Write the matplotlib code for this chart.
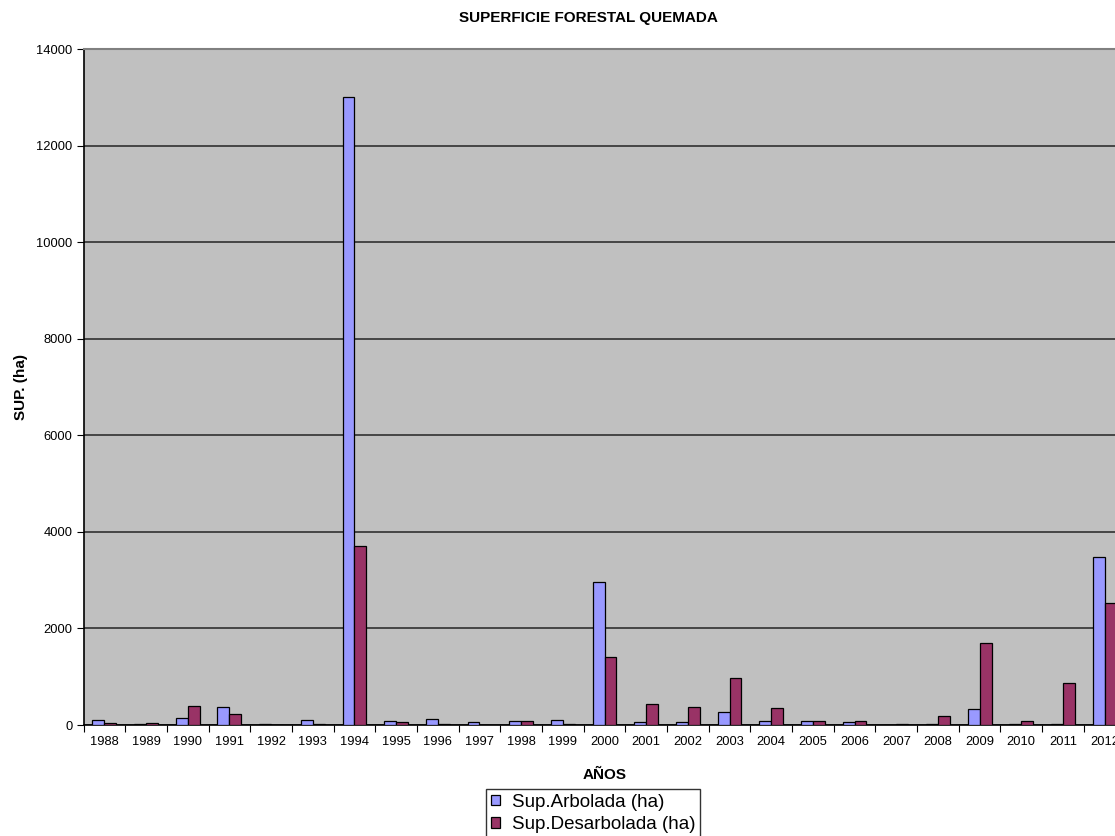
import numpy as np
import matplotlib
matplotlib.use('Agg')
import matplotlib.pyplot as plt

plt.rcParams['font.family'] = ['Liberation Sans', 'DejaVu Sans']

# data (ha)
years = [str(y) for y in range(1988, 2013)]
arbolada = [100, 20, 150, 380, 25, 100, 13000, 80, 130, 55, 75, 100,
            2970, 55, 55, 260, 80, 80, 55, 0, 25, 330, 25, 25, 3470]
desarbolada = [50, 50, 400, 230, 0, 25, 3700, 55, 25, 0, 75, 25,
               1400, 435, 380, 965, 350, 80, 80, 25, 180, 1700, 80, 860, 2535]

x = np.arange(len(years))
w = 1/3.5   # excel gap width 150%

fig = plt.figure(figsize=(11.15, 8.36), dpi=100)
ax = fig.add_axes([83.5/1115, 1 - 725/836, 1042/1115, 676/836])
ax.set_facecolor('#C0C0C0')

ax.bar(x - w/2, arbolada, w, color='#9999FF', edgecolor='black', linewidth=0.9,
       label='Sup.Arbolada (ha)', zorder=3)
ax.bar(x + w/2, desarbolada, w, color='#993366', edgecolor='black', linewidth=0.9,
       label='Sup.Desarbolada (ha)', zorder=3)

ax.set_xlim(-0.5, len(years) - 0.5)
ax.set_ylim(0, 14000)
ax.set_yticks(range(0, 14001, 2000))
ax.yaxis.grid(True, color='#303030', linewidth=1.2, zorder=1)

# ticks between categories, labels in the middle
ax.set_xticks(np.arange(len(years) + 1) - 0.5)
ax.set_xticklabels([])
ax.set_xticks(x, minor=True)
ax.set_xticklabels(years, minor=True)
ax.tick_params(axis='x', which='major', length=5, direction='out')
ax.tick_params(axis='x', which='minor', length=0, pad=8, labelsize=9.3)
ax.tick_params(axis='y', length=5, direction='out', labelsize=9.3, pad=3)

ax.spines['right'].set_visible(False)
ax.spines['top'].set_color('#808080')
ax.spines['top'].set_linewidth(1.5)
ax.spines['left'].set_linewidth(1.2)
ax.spines['bottom'].set_linewidth(1.2)

ax.set_xlabel('AÑOS', fontsize=11, fontweight='bold', labelpad=14)
ax.set_ylabel('SUP. (ha)', fontsize=11, fontweight='bold', labelpad=6)
fig.text(588/1115, 1 - 18/836, 'SUPERFICIE FORESTAL QUEMADA', fontsize=11,
         fontweight='bold', ha='center', va='center')

leg = fig.legend(loc='upper center', bbox_to_anchor=(593/1115, 1 - 789/836),
                 fontsize=13.5, frameon=True, fancybox=False, edgecolor='black',
                 handlelength=0.5, handleheight=0.5, handletextpad=0.6,
                 borderpad=0.25, labelspacing=0.3, borderaxespad=0)
leg.get_frame().set_linewidth(1)

fig.savefig('out.png', dpi=100)
